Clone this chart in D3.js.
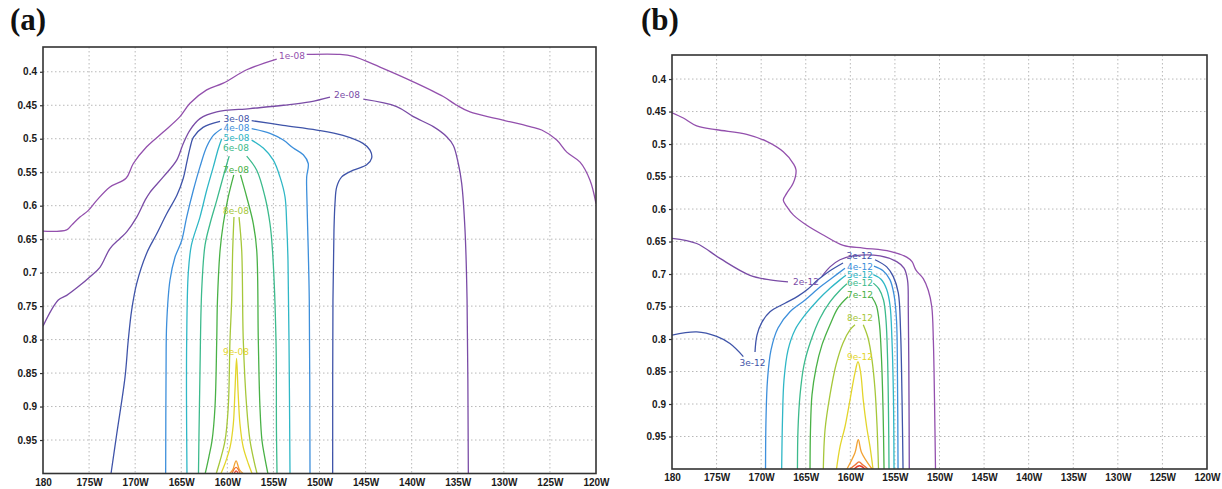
<!DOCTYPE html>
<html lang="en">
<head>
<meta charset="utf-8" />
<title>Contour panels (a) and (b)</title>
<script src="https://d3js.org/d3.v7.min.js"></script>
<style>
    body {
        margin: 0;
        padding: 0;
        background: #fff;
    }
    svg {
        display: block;
    }
    .panel-title {
        font-family: "Liberation Serif", "Times New Roman", serif;
        font-weight: bold;
        font-size: 31px;
        fill: #111;
    }
    .clabel {
        font-family: "DejaVu Sans", sans-serif;
        font-size: 9px;
    }
</style>
</head>
<body>
<svg id="chart"></svg>
<script>
    var w = 1222;
    var h = 489;

    // axes (lon in degrees east, negative = west)
    var lonDomain = [-180, -120];
    var sigDomain = [0.363, 1.0];
    var lonTicks = [-180, -175, -170, -165, -160, -155, -150, -145, -140, -135, -130, -125, -120];
    var lonLabels = ["180", "175W", "170W", "165W", "160W", "155W", "150W", "145W", "140W", "135W", "130W", "125W", "120W"];
    var sigTicks = [0.4, 0.45, 0.5, 0.55, 0.6, 0.65, 0.7, 0.75, 0.8, 0.85, 0.9, 0.95];
    var sigLabels = ["0.4", "0.45", "0.5", "0.55", "0.6", "0.65", "0.7", "0.75", "0.8", "0.85", "0.9", "0.95"];

    // one colour per contour level (1 .. 12)
    var levelColors = ["#9350ad", "#7a4ca6", "#3f54a9", "#3d8fdb", "#2fb7c6", "#3cba8c", "#49b146",
                       "#a6c73a", "#e3d52b", "#f2a233", "#f07535", "#e63b2a"];

    // ---------- panel (a): contour lines, [lon, sigma], split where a label sits ----------
    var a1 = [
        [[-180, 0.638], [-177.43, 0.636], [-176.89, 0.629], [-175.99, 0.617], [-175.08, 0.607], [-174.17, 0.592],
         [-172.73, 0.572], [-170.99, 0.559], [-170.2, 0.537], [-168.75, 0.512], [-166.95, 0.49], [-165.14, 0.467],
         [-164.05, 0.447], [-162.24, 0.427], [-160.44, 0.417], [-157.9, 0.397], [-154.64, 0.381]],
        [[-151.39, 0.374], [-147.78, 0.374], [-146.33, 0.377], [-143.44, 0.393], [-139.82, 0.415], [-136.57, 0.437],
         [-135.11, 0.45], [-133.67, 0.46], [-130.77, 0.47], [-127.16, 0.482], [-125.89, 0.487], [-124.26, 0.502],
         [-123.17, 0.52], [-121.73, 0.535], [-120.65, 0.562], [-120, 0.597]]
    ];
    var a2 = [
        [[-180, 0.78], [-178.34, 0.741], [-177.43, 0.734], [-175.99, 0.719], [-174.9, 0.706], [-173.82, 0.692],
         [-172.73, 0.664], [-171.65, 0.649], [-170.92, 0.639], [-169.83, 0.617], [-168.93, 0.592], [-168.39, 0.58],
         [-166.95, 0.557], [-165.49, 0.532], [-164.78, 0.507], [-164.05, 0.487], [-162.97, 0.47], [-161.15, 0.46],
         [-157.54, 0.455], [-153.93, 0.45], [-151.03, 0.445], [-148.86, 0.438]],
        [[-145.25, 0.441], [-141.63, 0.452], [-139.82, 0.467], [-137.65, 0.482], [-136.2, 0.497], [-135.48, 0.51],
         [-134.94, 0.537], [-134.57, 0.567], [-134.21, 0.637], [-133.99, 0.741], [-133.85, 1.0]]
    ];
    var a3 = [
        [[-172.62, 1.0], [-172.0, 0.941], [-171.1, 0.856], [-170.75, 0.801], [-170.38, 0.756], [-169.83, 0.716],
         [-168.75, 0.671], [-167.66, 0.642], [-166.58, 0.612], [-165.46, 0.584], [-164.78, 0.559], [-164.41, 0.536],
         [-164.05, 0.514], [-163.69, 0.498], [-162.64, 0.483], [-160.79, 0.474]],
        [[-157.36, 0.473], [-153.96, 0.48], [-150.3, 0.487], [-147.45, 0.495], [-145.28, 0.507], [-144.52, 0.517],
         [-144.34, 0.529], [-144.88, 0.539], [-146.33, 0.547], [-147.59, 0.557], [-148.13, 0.572], [-148.32, 0.597],
         [-148.43, 0.637], [-148.54, 0.741], [-148.57, 1.0]]
    ];
    var a4 = [
        [[-166.69, 1.0], [-166.65, 0.85], [-166.58, 0.776], [-166.22, 0.711], [-165.68, 0.677], [-164.95, 0.652],
         [-164.41, 0.617], [-163.69, 0.577], [-162.97, 0.542], [-162.24, 0.512], [-161.52, 0.495], [-160.61, 0.485]],
        [[-157.36, 0.485], [-155.37, 0.492], [-153.93, 0.502], [-152.84, 0.514], [-151.76, 0.524], [-151.22, 0.537],
         [-151.39, 0.557], [-151.39, 0.577], [-151.22, 0.667], [-151.11, 0.741], [-151.03, 1.0]]
    ];
    var a5 = [
        [[-164.38, 1.0], [-164.43, 0.891], [-164.41, 0.801], [-164.24, 0.701], [-163.9, 0.659], [-162.97, 0.617],
         [-162.24, 0.577], [-161.52, 0.542], [-160.98, 0.515], [-160.61, 0.5]],
        [[-157.36, 0.502], [-156.1, 0.514], [-155.01, 0.532], [-154.29, 0.557], [-153.74, 0.587], [-153.56, 0.627],
         [-153.42, 0.681], [-153.31, 0.801], [-153.2, 1.0]]
    ];
    var a6 = [
        [[-159.8, 0.526], [-160.25, 0.547], [-161.15, 0.592], [-161.88, 0.627], [-162.42, 0.659], [-162.78, 0.726],
         [-162.97, 0.85], [-163.07, 0.936], [-163.13, 1.0]],
        [[-157.9, 0.526], [-156.81, 0.547], [-155.91, 0.587], [-155.37, 0.627], [-155.1, 0.667], [-154.72, 0.801],
         [-154.67, 0.936], [-154.61, 1.0]]
    ];
    var a7 = [
        [[-159.3, 0.554], [-159.9, 0.587], [-160.44, 0.627], [-160.79, 0.667], [-161.07, 0.741], [-161.15, 0.801],
         [-161.34, 0.901], [-161.66, 0.951], [-162.0, 0.975], [-162.4, 1.0]],
        [[-158.57, 0.554], [-157.9, 0.587], [-157.18, 0.627], [-156.81, 0.667], [-156.64, 0.801], [-156.46, 0.901],
         [-156.24, 0.951], [-155.95, 0.975], [-155.6, 1.0]]
    ];
    var a8 = [
        [[-159.28, 0.617], [-159.42, 0.667], [-159.53, 0.741], [-159.71, 0.801], [-159.9, 0.901], [-160.25, 0.951],
         [-160.79, 0.981], [-161.2, 1.0]],
        [[-158.73, 0.617], [-158.44, 0.667], [-158.27, 0.801], [-157.9, 0.901], [-157.54, 0.951], [-157.11, 0.981],
         [-156.78, 1.0]]
    ];
    var a9 = [
        [[-160.69, 1.0], [-160.25, 0.985], [-159.71, 0.961], [-159.35, 0.926], [-159.17, 0.876], [-159.0, 0.828],
         [-158.84, 0.876], [-158.63, 0.926], [-158.27, 0.961], [-157.73, 0.985], [-157.32, 1.0]]
    ];
    var a10 = [[[-159.75, 1.0], [-159.4, 0.994], [-159.05, 0.981], [-158.7, 0.994], [-158.3, 1.0]]];
    var a11 = [[[-159.5, 1.0], [-159.05, 0.991], [-158.6, 1.0]]];
    var a12 = [[[-159.25, 1.0], [-159.05, 0.996], [-158.8, 1.0]]];
    var contoursA = [a1, a2, a3, a4, a5, a6, a7, a8, a9, a10, a11, a12];

    // labels of panel (a): level index, text, position
    var labelLevelA = [0, 1, 2, 3, 4, 5, 6, 7, 8];
    var labelTextA = ["1e-08", "2e-08", "3e-08", "4e-08", "5e-08", "6e-08", "7e-08", "8e-08", "9e-08"];
    var labelPosA = [[-152.98, 0.377], [-147.02, 0.435], [-159.0, 0.471], [-159.0, 0.484], [-159.0, 0.4985],
                     [-159.05, 0.514], [-159.05, 0.546], [-159.05, 0.608], [-159.05, 0.8185]];

    // ---------- panel (b) ----------
    var b1 = [
        [[-180, 0.452], [-178.73, 0.46], [-177.23, 0.472], [-174.99, 0.478], [-171.62, 0.485], [-169.38, 0.496],
         [-167.52, 0.512], [-166.4, 0.53], [-166.09, 0.54], [-166.4, 0.56], [-167.14, 0.576], [-167.52, 0.586],
         [-167.14, 0.596], [-166.4, 0.609], [-164.89, 0.625], [-163.03, 0.64], [-160.79, 0.656], [-158.55, 0.66],
         [-155.55, 0.665], [-153.68, 0.674], [-153.08, 0.681], [-152.64, 0.694], [-151.82, 0.707], [-151.26, 0.725],
         [-150.87, 0.75], [-150.69, 0.802], [-150.56, 0.894], [-150.45, 1.0]]
    ];
    var b2 = [
        [[-180, 0.645], [-177.23, 0.653], [-174.62, 0.676], [-171.25, 0.702], [-169.01, 0.709], [-166.99, 0.712]],
        [[-163.21, 0.704], [-162.28, 0.689], [-161.16, 0.678], [-159.67, 0.672], [-156.67, 0.672], [-154.8, 0.681],
         [-153.98, 0.691], [-153.59, 0.709], [-153.5, 0.755], [-153.42, 0.894], [-153.39, 1.0]]
    ];
    var b3 = [
        [[-180, 0.794], [-177.23, 0.789], [-174.99, 0.796], [-173.5, 0.807], [-172.0, 0.827]],
        [[-170.69, 0.82], [-170.47, 0.794], [-169.91, 0.774], [-169.01, 0.758], [-167.33, 0.745], [-165.87, 0.734],
         [-164.75, 0.723], [-163.63, 0.709], [-162.28, 0.695], [-160.82, 0.683]],
        [[-157.23, 0.678], [-155.92, 0.689], [-155.18, 0.704], [-154.62, 0.729], [-154.37, 0.786], [-154.2, 0.894],
         [-154.09, 1.0]]
    ];
    var b4 = [
        [[-160.6, 0.691], [-161.94, 0.705], [-163.4, 0.72], [-165.08, 0.74], [-166.77, 0.758], [-168.11, 0.783],
         [-168.9, 0.817], [-169.29, 0.863], [-169.46, 0.925], [-169.51, 1.0]],
        [[-157.35, 0.688], [-156.33, 0.695], [-155.55, 0.709], [-155.1, 0.732], [-154.82, 0.771], [-154.71, 0.863],
         [-154.65, 1.0]]
    ];
    var b5 = [
        [[-160.49, 0.702], [-161.16, 0.709], [-162.28, 0.722], [-163.63, 0.74], [-165.08, 0.763], [-166.21, 0.786],
         [-166.99, 0.817], [-167.44, 0.863], [-167.61, 0.925], [-167.7, 1.0]],
        [[-157.42, 0.701], [-156.56, 0.708], [-155.94, 0.723], [-155.55, 0.748], [-155.33, 0.802], [-155.16, 0.894],
         [-155.1, 1.0]]
    ];
    var b6 = [
        [[-160.38, 0.715], [-161.16, 0.725], [-162.28, 0.743], [-163.4, 0.768], [-164.41, 0.802], [-165.2, 0.84],
         [-165.64, 0.886], [-165.87, 0.94], [-165.93, 1.0]],
        [[-157.42, 0.714], [-156.79, 0.723], [-156.28, 0.74], [-156.0, 0.771], [-155.82, 0.832], [-155.71, 0.925],
         [-155.66, 1.0]]
    ];
    var b7 = [
        [[-160.26, 0.735], [-161.38, 0.752], [-162.28, 0.778], [-163.18, 0.809], [-163.85, 0.845], [-164.3, 0.886],
         [-164.47, 0.94], [-164.52, 1.0]],
        [[-157.6, 0.735], [-157.07, 0.749], [-156.73, 0.778], [-156.5, 0.832], [-156.33, 0.909], [-156.22, 1.0]]
    ];
    var b8 = [
        [[-159.48, 0.778], [-160.04, 0.786], [-160.82, 0.806], [-161.61, 0.84], [-162.28, 0.886], [-162.84, 0.94],
         [-163.03, 1.0]],
        [[-158.55, 0.778], [-158.02, 0.798], [-157.57, 0.832], [-157.23, 0.878], [-157.01, 0.932], [-156.84, 1.0]]
    ];
    var b9 = [
        [[-161.55, 1.0], [-161.16, 0.966], [-160.6, 0.935], [-160.04, 0.894], [-159.48, 0.852], [-159.14, 0.835],
         [-158.84, 0.852], [-158.55, 0.894], [-158.17, 0.935], [-157.79, 0.966], [-157.46, 1.0]]
    ];
    var b10 = [[[-160.38, 1.0], [-159.48, 0.975], [-159.11, 0.955], [-158.73, 0.975], [-157.57, 1.0]]];
    var b11 = [[[-160.04, 1.0], [-159.48, 0.994], [-159.03, 0.989], [-158.58, 0.994], [-158.02, 1.0]]];
    var b12 = [[[-159.59, 1.0], [-158.97, 0.995], [-158.35, 1.0]]];
    var contoursB = [b1, b2, b3, b4, b5, b6, b7, b8, b9, b10, b11, b12];

    var labelLevelB = [1, 2, 2, 3, 4, 5, 6, 7, 8];
    var labelTextB = ["2e-12", "3e-12", "3e-12", "4e-12", "5e-12", "6e-12", "7e-12", "8e-12", "9e-12"];
    var labelPosB = [[-164.97, 0.712], [-170.97, 0.837], [-158.97, 0.673], [-158.92, 0.689], [-158.92, 0.701],
                     [-158.92, 0.714], [-158.92, 0.732], [-158.92, 0.768], [-158.92, 0.827]];

    var svg = d3.select("#chart")
        .attr("width", w)
        .attr("height", h);

    function drawPanel(id, box, title, titleX, contours, labelLevel, labelText, labelPos) {
        var g = svg.append("g");

        var xScale = d3.scaleLinear().domain(lonDomain).range([box.left, box.right]);
        var yScale = d3.scaleLinear().domain(sigDomain).range([box.top, box.bottom]);

        // clip so nothing leaks out of the frame
        g.append("clipPath").attr("id", "clip" + id)
            .append("rect")
            .attr("x", box.left).attr("y", box.top)
            .attr("width", box.right - box.left)
            .attr("height", box.bottom - box.top);

        // dotted grid
        g.selectAll(".vgrid")
            .data(lonTicks.slice(1, -1))
            .enter().append("line")
            .attr("x1", function(d) { return xScale(d); })
            .attr("x2", function(d) { return xScale(d); })
            .attr("y1", box.top)
            .attr("y2", box.bottom)
            .attr("stroke", "#b8b8b8")
            .attr("stroke-width", 1)
            .attr("stroke-dasharray", "1.5,2.5");
        g.selectAll(".hgrid")
            .data(sigTicks)
            .enter().append("line")
            .attr("x1", box.left)
            .attr("x2", box.right)
            .attr("y1", function(d) { return yScale(d); })
            .attr("y2", function(d) { return yScale(d); })
            .attr("stroke", "#b8b8b8")
            .attr("stroke-width", 1)
            .attr("stroke-dasharray", "1.5,2.5");

        var line = d3.line()
            .x(function(d) { return xScale(d[0]); })
            .y(function(d) { return yScale(d[1]); })
            .curve(d3.curveCatmullRom.alpha(0.5));

        var lines = g.append("g").attr("clip-path", "url(#clip" + id + ")");
        contours.forEach(function(segs, i) {
            lines.selectAll(null)
                .data(segs)
                .enter().append("path")
                .attr("d", line)
                .attr("fill", "none")
                .attr("stroke", levelColors[i])
                .attr("stroke-width", 1.3)
                .attr("stroke-linejoin", "round");
        });

        // contour labels
        g.selectAll(".clabel")
            .data(labelText)
            .enter().append("text")
            .attr("class", "clabel")
            .attr("x", function(d, i) { return xScale(labelPos[i][0]); })
            .attr("y", function(d, i) { return yScale(labelPos[i][1]); })
            .attr("text-anchor", "middle")
            .attr("dominant-baseline", "central")
            .attr("fill", function(d, i) { return levelColors[labelLevel[i]]; })
            .text(function(d) { return d; });

        // axes
        var yAxis = d3.axisLeft(yScale)
            .tickValues(sigTicks)
            .tickFormat(function(d, i) { return sigLabels[i]; })
            .tickSize(3)
            .tickPadding(3);
        var yg = g.append("g")
            .attr("transform", "translate(" + box.left + ",0)")
            .call(yAxis);

        var xAxis = d3.axisBottom(xScale)
            .tickValues(lonTicks)
            .tickFormat(function(d, i) { return lonLabels[i]; })
            .tickSize(0)
            .tickPadding(5);
        var xg = g.append("g")
            .attr("transform", "translate(0," + box.bottom + ")")
            .call(xAxis);

        [yg, xg].forEach(function(ax) {
            ax.select(".domain").remove();
            ax.selectAll("line").attr("stroke", "#333").attr("stroke-width", 1.2);
            ax.selectAll("text")
                .attr("font-family", "'Liberation Sans', Arial, sans-serif")
                .attr("font-size", "10px")
                .attr("font-weight", "bold")
                .attr("fill", "#1a1a1a");
        });

        // frame
        g.append("rect")
            .attr("x", box.left)
            .attr("y", box.top)
            .attr("width", box.right - box.left)
            .attr("height", box.bottom - box.top)
            .attr("fill", "none")
            .attr("stroke", "#333")
            .attr("stroke-width", 1.6);

        svg.append("text")
            .attr("class", "panel-title")
            .attr("x", titleX)
            .attr("y", 30)
            .text(title);
    }

    drawPanel("a", {left: 43, right: 596, top: 47, bottom: 473.5}, "(a)", 10,
              contoursA, labelLevelA, labelTextA, labelPosA);
    drawPanel("b", {left: 672, right: 1207, top: 55, bottom: 469}, "(b)", 641,
              contoursB, labelLevelB, labelTextB, labelPosB);
</script>
</body>
</html>
